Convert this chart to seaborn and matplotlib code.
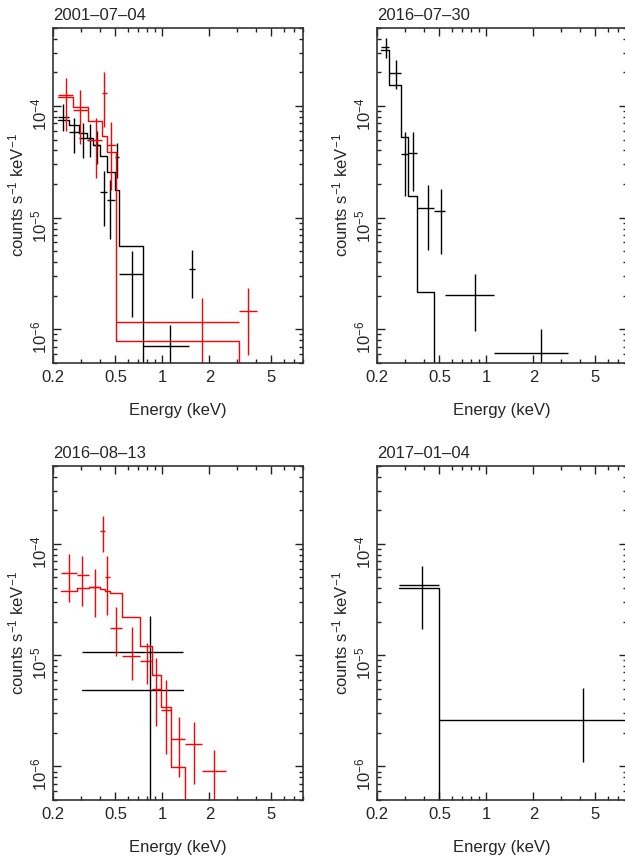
"""
四个观测时段的 X 射线能谱 (数据点 + 模型阶梯线)
"""

import numpy as np
import matplotlib
matplotlib.use('Agg')
import matplotlib.pyplot as plt
import seaborn as sns
from matplotlib.ticker import FixedLocator, NullFormatter, LogLocator, LogFormatterMathtext


# ---- 2001-07-04 ----
P1_BLACK_EDGES = [0.215, 0.253, 0.292, 0.330, 0.361, 0.399, 0.443, 0.497, 0.527, 0.754, 1.49, 1.62]
P1_BLACK_ENERGY = [0.231, 0.271, 0.309, 0.343, 0.379, 0.420, 0.464, 0.510, 0.641, 1.12, 1.54]
P1_BLACK_FLUX = [8.0e-5, 5.9e-5, 5.2e-5, 5.0e-5, 4.5e-5, 1.71e-5, 1.43e-5, 3.5e-5, 3.16e-6, 7.1e-7, 3.47e-6]
P1_BLACK_LO = [5.95e-5, 3.8e-5, 3.43e-5, 3.5e-5, 3.04e-5, 8.5e-6, 6.4e-6, 2.26e-5, 1.28e-6, 3e-7, 1.9e-6]
P1_BLACK_HI = [1.04e-4, 7.86e-5, 7.0e-5, 6.9e-5, 5.95e-5, 2.6e-5, 2.19e-5, 4.7e-5, 5.0e-6, 1.1e-6, 5.1e-6]
P1_BLACK_MODEL = [7.5e-5, 6.7e-5, 5.75e-5, 5.2e-5, 4.5e-5, 3.55e-5, 2.55e-5, 1.78e-5, 5.6e-6, 2e-7, 2e-7]

P1_RED_EDGES = [0.215, 0.266, 0.332, 0.412, 0.44, 0.502, 3.1, 4.06]
P1_RED_ENERGY = [0.241, 0.298, 0.374, 0.424, 0.469, 1.80, 3.56]
P1_RED_FLUX = [1.25e-4, 9.3e-5, 5.0e-5, 1.3e-4, 4.46e-5, 1.17e-6, 1.46e-6]
P1_RED_LO = [5.95e-5, 4.6e-5, 2.27e-5, 6.5e-5, 1.78e-5, 3e-7, 5.9e-7]
P1_RED_HI = [1.78e-4, 1.39e-4, 7.75e-5, 2.0e-4, 7.2e-5, 1.9e-6, 2.35e-6]
P1_RED_MODEL = [1.2e-4, 9.9e-5, 7.4e-5, 5.4e-5, 3.9e-5, 7.9e-7, 2e-7]

# ---- 2016-07-30 ----
P2_BLACK_EDGES = [0.210, 0.238, 0.283, 0.313, 0.358, 0.465, 0.545, 1.12, 3.33]
P2_BLACK_ENERGY = [0.226, 0.262, 0.300, 0.338, 0.42, 0.51, 0.846, 2.24]
P2_BLACK_FLUX = [3.36e-4, 1.98e-4, 3.7e-5, 3.8e-5, 1.22e-5, 1.14e-5, 2.04e-6, 6.2e-7]
P2_BLACK_LO = [2.68e-4, 1.42e-4, 1.56e-5, 1.75e-5, 5.1e-6, 4.7e-6, 9.6e-7, 3e-7]
P2_BLACK_HI = [4.1e-4, 2.56e-4, 5.88e-5, 5.88e-5, 1.96e-5, 1.79e-5, 3.16e-6, 1.0e-6]
P2_BLACK_MODEL = [3.2e-4, 1.53e-4, 5.3e-5, 1.56e-5, 2.15e-6, 2e-7, 2e-7, 2e-7]

# ---- 2016-08-13 ----
P3_BLACK_EDGES = [0.304, 1.36]
P3_BLACK_ENERGY = [0.835]
P3_BLACK_FLUX = [1.07e-5]
P3_BLACK_LO = [3e-7]
P3_BLACK_HI = [2.27e-5]
P3_BLACK_MODEL = [4.9e-6]

P3_RED_EDGES = [0.224, 0.282, 0.338, 0.40, 0.43, 0.462, 0.554, 0.718, 0.86, 0.98, 1.14, 1.40, 1.80, 2.56]
P3_RED_ENERGY = [0.253, 0.307, 0.370, 0.415, 0.443, 0.502, 0.636, 0.795, 0.907, 1.05, 1.27, 1.59, 2.15]
P3_RED_FLUX = [5.5e-5, 5.3e-5, 4.1e-5, 1.31e-4, 5.05e-5, 1.74e-5, 9.8e-6, 8.9e-6, 5.0e-6, 3.2e-6, 1.78e-6, 1.6e-6, 9.1e-7]
P3_RED_LO = [3.0e-5, 2.78e-5, 2.2e-5, 8.5e-5, 2.3e-5, 9.8e-6, 6.0e-6, 5.5e-6, 2.3e-6, 1.3e-6, 8e-7, 7e-7, 3e-7]
P3_RED_HI = [8.1e-5, 7.8e-5, 6.0e-5, 1.76e-4, 7.8e-5, 2.7e-5, 1.8e-5, 1.29e-5, 9.4e-6, 6.0e-6, 2.8e-6, 2.5e-6, 1.4e-6]
P3_RED_MODEL = [3.75e-5, 4.0e-5, 4.1e-5, 3.95e-5, 3.8e-5, 3.6e-5, 2.2e-5, 1.22e-5, 6.6e-6, 3.45e-6, 9.9e-7, 2e-7, 2e-7]

# ---- 2017-01-04 ----
P4_BLACK_EDGES = [0.277, 0.497, 7.86]
P4_BLACK_ENERGY = [0.386, 4.18]
P4_BLACK_FLUX = [4.23e-5, 2.62e-6]
P4_BLACK_LO = [1.72e-5, 1.09e-6]
P4_BLACK_HI = [6.3e-5, 5.1e-6]
P4_BLACK_MODEL = [4.0e-5, 2e-7]

TITLES = ['2001–07–04', '2016–07–30', '2016–08–13', '2017–01–04']
X_TICKS = [0.2, 0.5, 1, 2, 5]
X_TICK_LABELS = ['0.2', '0.5', '1', '2', '5']
X_MINOR = [0.3, 0.4, 0.6, 0.7, 0.8, 0.9, 3, 4, 6, 7, 8]


def plot_spectrum(ax, edges, energy, flux, lo, hi, model, color):
    """画数据十字 (能段宽度 + 误差) 和模型阶梯线"""
    edges = np.asarray(edges)
    energy = np.asarray(energy)
    flux = np.asarray(flux)
    xerr = [energy - edges[:-1], edges[1:] - energy]
    yerr = [flux - np.asarray(lo), np.asarray(hi) - flux]
    ax.errorbar(energy, flux, xerr=xerr, yerr=yerr, fmt='none',
                ecolor=color, elinewidth=1.0, capsize=0)

    step_y = np.append(model, model[-1])
    sns.lineplot(x=edges, y=step_y, drawstyle='steps-post', color=color,
                 lw=1.0, estimator=None, sort=False, ax=ax)


def style_axes(ax, title):
    ax.set_xlim(0.2, 8.0)
    ax.set_ylim(5e-7, 5e-4)

    ax.xaxis.set_major_locator(FixedLocator(X_TICKS))
    ax.set_xticklabels(X_TICK_LABELS)
    ax.xaxis.set_minor_locator(FixedLocator(X_MINOR))
    ax.xaxis.set_minor_formatter(NullFormatter())

    ax.yaxis.set_major_locator(LogLocator(base=10, numticks=10))
    ax.yaxis.set_major_formatter(LogFormatterMathtext())
    ax.yaxis.set_minor_locator(LogLocator(base=10, subs=np.arange(2, 10), numticks=20))
    ax.yaxis.set_minor_formatter(NullFormatter())

    ax.tick_params(which='both', direction='in', top=True, right=True,
                   width=1.0, color='#222222', labelsize=12)
    ax.tick_params(which='major', length=6)
    ax.tick_params(which='minor', length=3.2)
    ax.tick_params(axis='x', pad=5)
    ax.tick_params(axis='y', labelrotation=90, pad=3)

    for sp in ax.spines.values():
        sp.set_linewidth(1.2)
        sp.set_color('#333333')
        sp.set_visible(True)

    ax.set_xlabel('Energy (keV)', fontsize=12, labelpad=13)
    ax.set_ylabel('counts s$^{-1}$ keV$^{-1}$', fontsize=12, labelpad=2)
    ax.set_title(title, loc='left', fontsize=12, pad=6)


sns.set_style('ticks')
plt.rcParams['font.family'] = ['Liberation Sans', 'DejaVu Sans']
plt.rcParams['mathtext.default'] = 'regular'

fig = plt.figure(figsize=(6.25, 8.61), dpi=100)

W, H = 625.0, 861.0
ax1 = fig.add_axes([53.3 / W, 1 - 363 / H, 250 / W, 335 / H])
ax2 = fig.add_axes([377.3 / W, 1 - 363 / H, 250 / W, 335 / H])
ax3 = fig.add_axes([53.3 / W, 1 - 800 / H, 250 / W, 334 / H])
ax4 = fig.add_axes([377.3 / W, 1 - 800 / H, 250 / W, 334 / H])

for ax in (ax1, ax2, ax3, ax4):
    ax.set_xscale('log')
    ax.set_yscale('log')

plot_spectrum(ax1, P1_BLACK_EDGES, P1_BLACK_ENERGY, P1_BLACK_FLUX, P1_BLACK_LO, P1_BLACK_HI, P1_BLACK_MODEL, 'black')
plot_spectrum(ax1, P1_RED_EDGES, P1_RED_ENERGY, P1_RED_FLUX, P1_RED_LO, P1_RED_HI, P1_RED_MODEL, 'red')

plot_spectrum(ax2, P2_BLACK_EDGES, P2_BLACK_ENERGY, P2_BLACK_FLUX, P2_BLACK_LO, P2_BLACK_HI, P2_BLACK_MODEL, 'black')

plot_spectrum(ax3, P3_BLACK_EDGES, P3_BLACK_ENERGY, P3_BLACK_FLUX, P3_BLACK_LO, P3_BLACK_HI, P3_BLACK_MODEL, 'black')
plot_spectrum(ax3, P3_RED_EDGES, P3_RED_ENERGY, P3_RED_FLUX, P3_RED_LO, P3_RED_HI, P3_RED_MODEL, 'red')

plot_spectrum(ax4, P4_BLACK_EDGES, P4_BLACK_ENERGY, P4_BLACK_FLUX, P4_BLACK_LO, P4_BLACK_HI, P4_BLACK_MODEL, 'black')

for ax, title in zip((ax1, ax2, ax3, ax4), TITLES):
    style_axes(ax, title)

plt.savefig('out.png', dpi=100)
plt.close()
